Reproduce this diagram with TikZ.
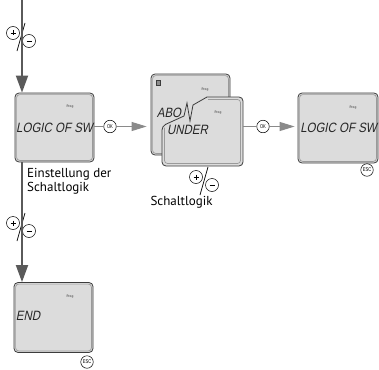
\documentclass[tikz,border=0pt]{standalone}
\usepackage{fontspec}
\setmainfont{PT Sans}
\newfontfamily\lcdfont{Liberation Sans}[FakeSlant=0.2,FakeStretch=0.85]
\newfontfamily\keyfont{Liberation Sans}[FakeStretch=0.75]
\usetikzlibrary{
  arrows.meta,
  positioning,
  calc,
}
\definecolor{lcdgray}{HTML}{DCDCDC}
\definecolor{frame}{HTML}{3C3C3C}
\definecolor{rim}{HTML}{9A9A9A}
\definecolor{flow}{HTML}{5A5A5A}
\definecolor{link}{HTML}{8A8A8A}
\tikzset{
  lcd/.style={
    draw=frame,
    fill=lcdgray,
    line width=0.8pt,
    rounded corners=4pt,
    minimum width=79pt,
    minimum height=69pt,
    inner sep=0pt,
  },
  rim/.style={draw=rim, line width=0.7pt, rounded corners=3pt},
  lcdtext/.style={font=\lcdfont\fontsize{13.5}{14}\selectfont, text=black!85, inner sep=0pt},
  progtag/.style={font=\bfseries\fontsize{3.5}{4}\selectfont, text=black!60, inner sep=0pt},
  key/.style={
    circle,
    draw=black,
    line width=0.5pt,
    minimum size=12.5pt,
    inner sep=0pt,
    font=\keyfont\fontsize{5.5}{6}\selectfont,
  },
  flowline/.style={draw=flow, line width=1.8pt, -{Triangle[length=17pt,width=12pt]}},
  linkline/.style={draw=link, line width=1.1pt},
  linkarrow/.style={draw=link, line width=1.1pt, -{Triangle[length=15pt,width=9pt]}},
  caption/.style={font=\fontsize{13}{14}\selectfont, align=left, inner sep=0pt},
  pics/plusminus/.style={
    code={
      \draw[line width=0.5pt] (-8,-4) circle[radius=6.5pt] (8,4) circle[radius=6.5pt];
      \draw[line width=0.5pt] (-10.5,-4) -- (-5.5,-4) (-8,-6.5) -- (-8,-1.5) (5.5,4) -- (10.5,4);
      \draw[line width=0.7pt] (4,-14) -- (-4,14);
    }
  },
}

\begin{document}
\begin{tikzpicture}[x=1pt,y=-1pt]
  \useasboundingbox (0,0) rectangle (379,369);

  % displays
  \node[lcd] (logicA) at (54.5,127.5) {};
  \node[lcd, minimum height=70pt] (endD) at (53.5,317.5) {};
  \node[lcd, minimum width=80pt, minimum height=70pt] (logicC) at (338,128) {};
  \node[lcd, minimum height=81pt] (aboveB) at (190.5,114.5) {};
  \foreach \n in {logicA, endD, logicC, aboveB} {
    \draw[rim] ([shift={(2,2)}]\n.north west) rectangle ([shift={(-2,-2)}]\n.south east);
  }
  \draw[frame, fill=black!45, line width=0.5pt] (156,80) rectangle (160,85);

  % front display, cut open at the top left
  \node[minimum width=81pt, minimum height=69pt, inner sep=0pt] (underB) at (202.5,131.5) {};
  \draw[frame, fill=lcdgray, line width=0.8pt, rounded corners=4pt]
    (207,97) -- (243,97) -- (243,166) -- (162,166) -- (162,126)
    [sharp corners] -- (184,116) -- (187,103) -- (190,121) -- (193,105) -- cycle;
  \draw[rim] (208,99.5) -- (240.5,99.5) -- (240.5,163.5) -- (164.5,163.5) -- (164.5,127.5);

  % display texts
  \node[lcdtext] at (logicA) {LOGIC OF SW};
  \node[lcdtext] at (338.5,128) {LOGIC OF SW};
  \node[lcdtext] at (28,316) {END};
  \node[lcdtext] at (169,113) {ABO};
  \node[lcdtext] at (187.5,130) {UNDER};
  \node[progtag] at ($(logicA)+(15.5,-20.5)$) {Prog};
  \node[progtag] at ($(logicC)+(15,-20)$) {Prog};
  \node[progtag] at ($(endD)+(16.5,-20.5)$) {Prog};
  \node[progtag] at ($(aboveB)+(14.5,-24.5)$) {Prog};
  \node[progtag] at ($(underB)+(15.5,-19)$) {Prog};

  % keys
  \node[key] (ok1) at (110,126.5) {OK};
  \node[key] (ok2) at (263,126.5) {OK};
  \node[key] (esc1) at (87,362) {ESC};
  \node[key] (esc2) at (367,170) {ESC};
  \pic at (21,37) {plusminus};
  \pic at (21,227) {plusminus};
  \pic at (204,181) {plusminus};

  % connectors
  \coordinate (entry) at (22,0);
  \coordinate (inB) at ($(aboveB.west |- ok1)+(-4,0)$);
  \coordinate (inC) at ($(logicC.west |- ok2)+(-3,0)$);
  \draw[flowline] (entry) -- (entry |- logicA.north);
  \draw[flowline] (entry |- logicA.south) -- (entry |- endD.north);
  \draw[linkline] (logicA.east |- ok1) -- (ok1);
  \draw[linkarrow] (ok1) -- (inB);
  \draw[linkline] (underB.east |- ok2) -- (ok2);
  \draw[linkarrow] (ok2) -- (inC);

  % captions
  \node[caption, anchor=north west] (setting) at (27,168.5) {Einstellung der\\Schaltlogik};
  \node[caption] (logic) at (181.5,202) {Schaltlogik};
\end{tikzpicture}
\end{document}
